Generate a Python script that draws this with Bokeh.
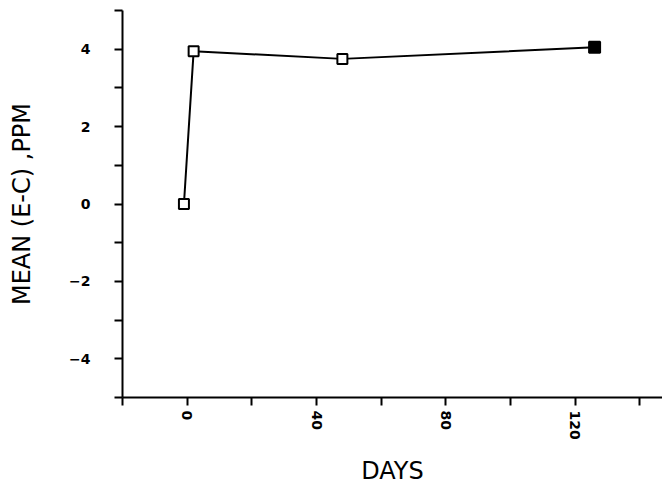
import math
from bokeh.plotting import figure
from bokeh.models import Range1d, FixedTicker
from bokeh.embed import file_html
from bokeh.resources import INLINE

# data
days = [-1, 2, 48, 126]
mean_ppm = [0.0, 3.95, 3.75, 4.05]

x_major = [0, 40, 80, 120]
x_minor = [-20, 20, 60, 100, 140]
y_major = [-4, -2, 0, 2, 4]
y_minor = [-5, -3, -1, 1, 3, 5]

p = figure(width=662, height=493, output_backend="svg", toolbar_location=None,
           x_range=Range1d(-20, 147), y_range=Range1d(-5, 5),
           min_border_left=122, min_border_right=0, min_border_top=10, min_border_bottom=96)
p.outline_line_color = None
p.xgrid.visible = False
p.ygrid.visible = False
p.background_fill_color = "white"
p.border_fill_color = "white"

p.line(days, mean_ppm, line_color="black", line_width=2)
p.scatter(days[:-1], mean_ppm[:-1], marker="square", size=10,
          fill_color="white", line_color="black", line_width=2)
p.scatter(days[-1:], mean_ppm[-1:], marker="square", size=11,
          fill_color="black", line_color="black", line_width=2)

for ax in (p.xaxis[0], p.yaxis[0]):
    ax.axis_line_width = 2
    ax.axis_line_color = "black"
    ax.major_tick_line_width = 2
    ax.minor_tick_line_width = 2
    ax.major_tick_line_color = "black"
    ax.minor_tick_line_color = "black"
    ax.major_tick_in = 0
    ax.minor_tick_in = 0
    ax.major_tick_out = 8
    ax.minor_tick_out = 8
    ax.major_label_text_font = "DejaVu Sans"
    ax.major_label_text_font_style = "bold"
    ax.major_label_text_font_size = "14px"
    ax.major_label_text_color = "black"
    ax.axis_label_text_font = "DejaVu Sans"
    ax.axis_label_text_font_style = "normal"
    ax.axis_label_text_font_size = "24px"
    ax.axis_label_text_color = "black"

p.xaxis.ticker = FixedTicker(ticks=x_major, minor_ticks=x_minor)
p.yaxis.ticker = FixedTicker(ticks=y_major, minor_ticks=y_minor)
p.xaxis.major_label_orientation = -math.pi / 2
p.xaxis.major_label_standoff = 5
p.yaxis.major_label_standoff = 24
p.xaxis.axis_label = "DAYS"
p.yaxis.axis_label = "MEAN (E-C) ,PPM"
p.xaxis.axis_label_standoff = 14
p.yaxis.axis_label_standoff = 30

open("out.html", "w").write(file_html(p, INLINE))
